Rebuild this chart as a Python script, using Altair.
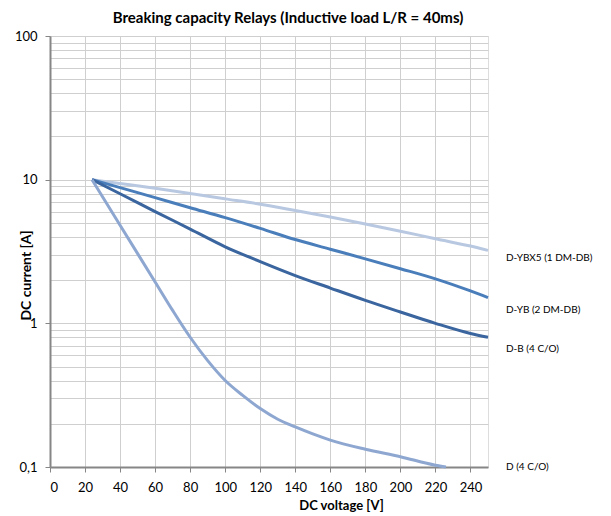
import altair as alt
import pandas as pd

# ---- data ----
series_names = ["D-YBX5 (1 DM-DB)", "D-YB (2 DM-DB)", "D-B (4 C/O)", "D (4 C/O)"]
series_colors = ["#b9c8e1", "#4a7ebb", "#3a659e", "#8ea7d1"]

v_ybx5 = [24, 40, 60, 80, 100, 120, 140, 160, 180, 200, 220, 240, 250]
a_ybx5 = [10, 9.4, 8.7, 8.0, 7.35, 6.75, 6.1, 5.5, 4.92, 4.38, 3.88, 3.45, 3.22]

v_yb = [24, 40, 60, 80, 100, 120, 140, 160, 180, 200, 220, 240, 250]
a_yb = [10, 8.8, 7.5, 6.38, 5.44, 4.58, 3.83, 3.28, 2.81, 2.4, 2.04, 1.68, 1.51]

v_b = [24, 40, 60, 80, 100, 120, 140, 160, 180, 200, 220, 240, 250]
a_b = [10, 7.98, 6.0, 4.53, 3.41, 2.69, 2.15, 1.76, 1.445, 1.2, 1.0, 0.85, 0.80]

v_d = [24, 40, 60, 70, 80, 90, 100, 110, 120, 130, 140, 150, 160, 180, 200, 220, 226]
a_d = [10, 4.82, 1.94, 1.23, 0.80, 0.55, 0.40, 0.315, 0.255, 0.215, 0.19, 0.17, 0.154,
       0.133, 0.118, 0.103, 0.1]

label_current = [2.84, 1.23, 0.66, 0.1]

x_ticks = [0, 20, 40, 60, 80, 100, 120, 140, 160, 180, 200, 220, 240]
y_ticks = [0.1, 0.2, 0.3, 0.4, 0.5, 0.6, 0.7, 0.8, 0.9,
           1, 2, 3, 4, 5, 6, 7, 8, 9,
           10, 20, 30, 40, 50, 60, 70, 80, 90, 100]

title_text = "Breaking capacity Relays (Inductive load L/R = 40ms)"
x_title = "DC voltage [V]"
y_title = "DC current [A]"

# ---- build table ----
rows = []
for name, vs, As in zip(series_names,
                        [v_ybx5, v_yb, v_b, v_d],
                        [a_ybx5, a_yb, a_b, a_d]):
    for v, a in zip(vs, As):
        rows.append({"series": name, "V": v, "A": a})
df = pd.DataFrame(rows)
labels_df = pd.DataFrame({"series": series_names, "A": label_current, "V": [250] * 4})
title_df = pd.DataFrame({"t": [title_text]})

FONT = "Lato"
GRID = "#cfcfcf"
AXIS = "#868686"

decade_test = "indexof([0.1, 1, 10, 100], datum.value) >= 0"

x_scale = alt.Scale(domain=[0, 250], nice=False, zero=False)
y_scale = alt.Scale(type="log", domain=[0.1, 100], nice=False)

x_axis = alt.Axis(
    values=x_ticks, grid=True, gridColor=GRID, gridWidth=1,
    domainColor=AXIS, domainWidth=2, tickColor=AXIS, tickSize=5,
    labelFont=FONT, labelFontSize=13, labelColor="#000000", labelPadding=9,
    labelOverlap=False, labelSeparation=0,
    title=x_title, titleFont=FONT, titleFontSize=13, titleFontWeight="bold",
    titleColor="#000000", titleX=291, titleY=38, titleBaseline="middle",
    titleAnchor="middle", titleAlign="center",
)
y_axis = alt.Axis(
    values=y_ticks, grid=True, gridColor=GRID, gridWidth=1,
    domainColor=AXIS, domainWidth=2, tickColor=AXIS, tickSize=5,
    tickOpacity={"condition": {"test": decade_test, "value": 1}, "value": 0},
    labelExpr="datum.value == 0.1 ? '0,1' : (" + decade_test + " ? format(datum.value, 'd') : '')",
    labelFont=FONT, labelFontSize=13, labelColor="#000000", labelPadding=8,
    labelOverlap=False,
    title=y_title, titleFont=FONT, titleFontSize=14, titleFontWeight="bold",
    titleColor="#000000", titleX=-24, titleY=239, titleAngle=270,
    titleBaseline="middle", titleAlign="center",
)

lines = alt.Chart(df).mark_line(strokeWidth=3, interpolate="monotone").encode(
    x=alt.X("V:Q", scale=x_scale, axis=x_axis),
    y=alt.Y("A:Q", scale=y_scale, axis=y_axis),
    color=alt.Color("series:N", scale=alt.Scale(domain=series_names, range=series_colors), legend=None),
    detail="series:N",
)

texts = alt.Chart(labels_df).mark_text(
    align="left", baseline="middle", dx=18, font=FONT, fontSize=10, color="#000000"
).encode(
    x=alt.X("V:Q", scale=x_scale, axis=x_axis),
    y=alt.Y("A:Q", scale=y_scale, axis=y_axis),
    text="series:N",
)

title_mark = alt.Chart(title_df).mark_text(
    align="center", baseline="middle", font=FONT, fontSize=15, fontWeight="bold",
    color="#000000"
).encode(
    x=alt.value(238), y=alt.value(-18), text="t:N"
)

chart = alt.layer(lines, texts, title_mark).properties(
    width=438, height=431,
    autosize=alt.AutoSizeParams(type="none"),
    padding={"left": 42, "top": 28, "right": 115, "bottom": 49},
).configure_axis(labelOverlap=False).configure_view(stroke=None).configure(background="white")

chart.save("out.html", embed_options={"renderer": "svg", "actions": False})
